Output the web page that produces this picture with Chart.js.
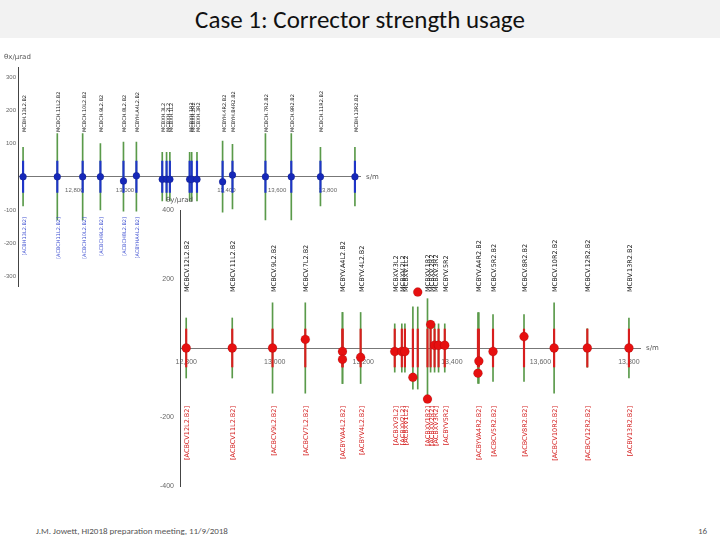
<!DOCTYPE html>
<html><head><meta charset="utf-8">
<script src="https://cdn.jsdelivr.net/npm/chart.js@4/dist/chart.umd.min.js"></script>
<style>
body{margin:0;width:720px;height:540px;background:#fff;position:relative;overflow:hidden;font-family:Calibri,"Liberation Sans","Open Sans",sans-serif}
#title{position:absolute;left:0;top:0;width:720px;height:38px;background:#f2f2f2;text-align:center;font-size:25px;line-height:40px;color:#111}
#foot{position:absolute;left:36px;top:525px;font-size:9px;color:#555}
#pg{position:absolute;left:698px;top:525px;font-size:9px;color:#555}
canvas{position:absolute}
</style></head><body>
<div id="title">Case 1: Corrector strength usage</div>
<canvas id="topChart" width="390" height="239" style="left:0;top:53px"></canvas>
<canvas id="mainChart" width="520" height="320" style="left:158px;top:186px"></canvas>
<div id="foot">J.M. Jowett, HI2018 preparation meeting, 11/9/2018</div>
<div id="pg">16</div>
<script>
// theta_x (top, blue)
const xPos = [12598,12733,12833,12903,12994,13045,13147,13164,13177,13255,13263,13284,13385,13424,13554,13656,13771,13907];
const xVal = [0,0,0,0,-13,3,-8,-8,-8,-8,-8,-8,-15,5,0,0,0,0];
const xRange = [88,130,130,100,104,104,73,73,73,73,73,73,107,97,130,130,88,88];
const xNames = ['MCBH.13L2.B2','MCBCH.11L2.B2','MCBCH.10L2.B2','MCBCH.9L2.B2','MCBCH.8L2.B2','MCBYH.A4L2.B2','MCBXH.3L2','MCBXH.2L2','MCBXH.1L2','MCBXH.1R2','MCBXH.2R2','MCBXH.3R2','MCBYH.4R2.B2','MCBYH.B4R2.B2','MCBCH.7R2.B2','MCBCH.9R2.B2','MCBCH.11R2.B2','MCBH.13R2.B2'];
const xLow = ['[ACBH13L2.B2]','[ACBCH11L2.B2]','[ACBCH10L2.B2]','[ACBCH9L2.B2]','[ACBCH8L2.B2]','[ACBYHA4L2.B2]','','','','','','','','','','','',''];
const xTicksX = [12800, 13000, 13400, 13600, 13800];
const xTicksY = [-300, -200, -100, 100, 200, 300];

// theta_y (main, red)
const yPos = [12800,12904,12995,13069,13153,13153,13194,13271,13287,13294,13312,13323,13345,13352,13361,13370,13384,13459,13461,13493,13563,13631,13706,13800];
const yVal = [0,0,0,25,-10,-33,-27,-10,-10,-10,-85,162,-148,68,8,8,8,-73,-38,-10,33,0,0,0];
const yRange = [87,87,131,131,103,103,103,70,70,70,119,119,143,70,70,70,70,103,103,97,97,131,56,87];
const yNames = ['MCBCV.12L2.B2','MCBCV.11L2.B2','MCBCV.9L2.B2','MCBCV.7L2.B2','MCBYV.A4L2.B2','','MCBYV.4L2.B2','MCBXV.3L2','MCBXV.2L2','MCBXV.1L2','','','MCBXV.1R2','MCBXV.2R2','MCBXV.3R2','','MCBYV.5R2','MCBYV.A4R2.B2','','MCBCV.5R2.B2','MCBCV.8R2.B2','MCBCV.10R2.B2','MCBCV.12R2.B2','MCBV.13R2.B2'];
const yLow = ['[ACBCV12L2.B2]','[ACBCV11L2.B2]','[ACBCV9L2.B2]','[ACBCV7L2.B2]','[ACBYVA4L2.B2]','','[ACBYV4L2.B2]','[ACBXV3L2]','[ACBXV2L2]','[ACBXV1L2]','','','[ACBXV1R2]','[ACBXV2R2]','[ACBXV3R2]','','[ACBYV5R2]','[ACBYVA4R2.B2]','','[ACBCV5R2.B2]','[ACBCV8R2.B2]','[ACBCV10R2.B2]','[ACBCV12R2.B2]','[ACBV13R2.B2]'];
const yTicksX = [12800, 13000, 13200, 13400, 13600, 13800];
const yTicksY = [-400, -200, 200, 400];

function labelPlugin(pos, up, low, upBottom, lowTop, lowColor, font) {
  return {
    id: 'names',
    afterDatasetsDraw(chart) {
      const c = chart.ctx, xs = chart.scales.x;
      c.save();
      c.font = font;
      for (let i = 0; i < pos.length; i++) {
        const px = xs.getPixelForValue(pos[i]);
        c.save(); c.translate(px + 3, upBottom); c.rotate(-Math.PI / 2);
        c.fillStyle = '#111'; c.textAlign = 'left'; c.fillText(up[i], 0, 0); c.restore();
        c.save(); c.translate(px + 3, lowTop); c.rotate(-Math.PI / 2);
        c.fillStyle = lowColor; c.textAlign = 'right'; c.fillText(low[i], 0, 0); c.restore();
      }
      c.restore();
    }
  };
}

function makeChart(id, pos, val, range, small, barCol, ptCol, xmin, xmax, ymin, ymax, ticksX, ticksY, yTitle, pad, plugin, ptR, tickFont, drawTicks) {
  const ctx = document.getElementById(id).getContext('2d');
  return new Chart(ctx, {
    type: 'bar',
    data: {
      datasets: [
        { data: pos.map((p, i) => ({ x: p, y: [-range[i], range[i]] })), backgroundColor: '#5a9a4a', barThickness: 1, grouped: false, order: 3 },
        { data: pos.map((p, i) => ({ x: p, y: [-small, small] })), backgroundColor: barCol, barThickness: 1.5, grouped: false, order: 2 },
        { type: 'scatter', data: pos.map((p, i) => ({ x: p, y: val[i] })), backgroundColor: ptCol, pointRadius: ptR, order: 1 }
      ]
    },
    options: {
      responsive: false, animation: false,
      layout: { padding: pad },
      plugins: { legend: { display: false }, tooltip: { enabled: false } },
      scales: {
        x: { type: 'linear', min: xmin, max: xmax, offset: false, position: { y: 0 }, grid: { display: false },
             border: { color: '#777' },
             afterBuildTicks: s => { s.ticks = ticksX.map(v => ({ value: v })); },
             ticks: { font: { size: tickFont }, color: '#666', padding: 2, callback: v => v.toLocaleString('en-US') } },
        y: { min: ymin, max: ymax, grid: { display: false, drawTicks: drawTicks, tickLength: 4 }, border: { color: '#444' },
             afterBuildTicks: s => { s.ticks = ticksY.map(v => ({ value: v })); },
             ticks: { font: { size: tickFont }, color: '#666', padding: 2 } }
      }
    },
    plugins: [plugin, {
      id: 'titles',
      afterDraw(chart) {
        const c = chart.ctx, a = chart.chartArea;
        c.save(); c.font = '7px "DejaVu Sans"'; c.fillStyle = '#555';
        c.fillText(yTitle, Math.max(a.left - 14, 3), a.top - 8);
        c.fillText('s/m', a.right + 6, chart.scales.y.getPixelForValue(0) + 2);
        c.restore();
      }
    }]
  });
}

makeChart('topChart', xPos, xVal, xRange, 47, '#1f35c8', '#1628b8', 12578, 13927, -330, 330,
  xTicksX, xTicksY, 'θx/μrad', { left: 2, right: 30, top: 14, bottom: 0 },
  labelPlugin(xPos, xNames, xLow, 79, 164, '#3d4ed0', '5px "DejaVu Sans"'), 3.5, 6, false);

makeChart('mainChart', yPos, yVal, yRange, 55, '#d81e1e', '#e61010', 12786, 13825, -400, 400,
  yTicksX, yTicksY, 'θy/μrad', { left: 0, right: 38, top: 24, bottom: 20 },
  labelPlugin(yPos, yNames, yLow, 106, 220, '#d42020', '6.5px "DejaVu Sans"'), 4.5, 7, true);
</script>
</body></html>
